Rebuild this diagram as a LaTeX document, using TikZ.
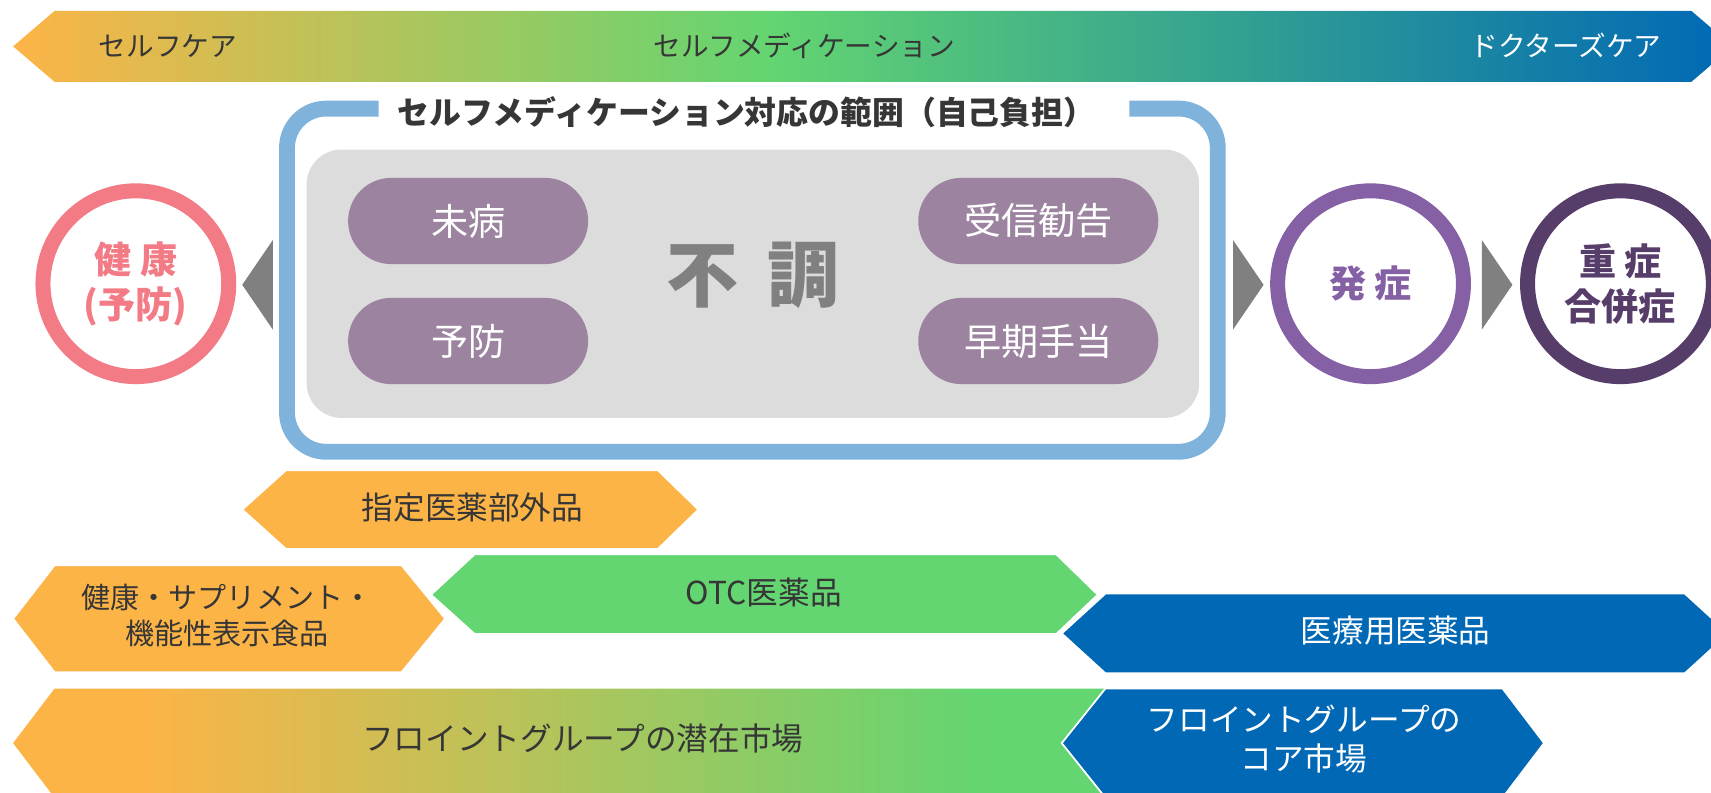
\documentclass[tikz,border=0pt]{standalone}
\usepackage{fontspec}
\setmainfont{Noto Sans CJK JP}
\usetikzlibrary{shapes.misc}
\definecolor{barorange}{HTML}{FDB447}
\definecolor{bargreen}{HTML}{63D571}
\definecolor{barblue}{HTML}{0068B5}
\definecolor{framblue}{HTML}{7FB3DC}
\definecolor{boxgray}{HTML}{DCDCDC}
\definecolor{pillmauve}{HTML}{9C84A0}
\definecolor{arrowgray}{HTML}{808080}
\definecolor{kenkopink}{HTML}{F27B86}
\definecolor{hasshopurple}{HTML}{8560A4}
\definecolor{jushopurple}{HTML}{573D69}
\definecolor{textdark}{HTML}{363636}
\pgfdeclarehorizontalshading{bandshade}{100bp}{color(0bp)=(barorange); color(25bp)=(barorange); color(47bp)=(bargreen); color(75bp)=(barblue); color(100bp)=(barblue)}
\pgfdeclarehorizontalshading{marketshade}{100bp}{color(0bp)=(barorange); color(30.8bp)=(barorange); color(68.6bp)=(bargreen); color(100bp)=(bargreen)}
\begin{document}
\begin{tikzpicture}[x=0.75pt,y=-0.75pt,
	bandtext/.style={text=textdark, font=\fontsize{19}{23}\selectfont},
	bartext/.style={text=textdark, align=center, font=\fontsize{21.75}{27}\selectfont},
	pill/.style={rounded rectangle, fill=pillmauve, text=white, inner sep=0pt, minimum width=165pt, minimum height=59.25pt, font=\fontsize{25.5}{30}\selectfont},
	ring/.style={circle, draw=#1, text=#1, line width=10.3pt, minimum size=127.7pt, inner sep=0pt, align=center, font=\bfseries\fontsize{25.5}{31}\selectfont},
	hexbar/.style={draw=white, line width=1.2pt}]
		\useasboundingbox (0,0) rectangle (1568,726);
		\clip (0,0) rectangle (1568,726);
		\shade[shading=bandshade] (12,42.5)--(50,10)--(1550,10)--(1588,42.5)--(1550,75)--(50,75)--cycle;
		\node[bandtext] (selfcare) at (154,42) {セルフケア};
		\node[bandtext] (selfmed) at (737,42) {セルフメディケーション};
		\node[bandtext, text=white] (doctorcare) at (1435,42) {ドクターズケア};
		\draw[framblue, line width=10.9pt, rounded corners=27pt] (347,99.5)--(263,99.5)--(263,414)--(1116,414)--(1116,99.5)--(1035,99.5);
		\node[text=textdark, font=\bfseries\fontsize{21.9}{26}\selectfont] (scope) at (684,103) {セルフメディケーション対応の範囲（自己負担）};
		\fill[boxgray, rounded corners=24pt] (281,137) rectangle (1099,383);
		\node[pill] (mibyo) at (429,202.5) {未病};
		\node[pill] (yobo) at (429,312.5) {予防};
		\node[pill] (jushin) at (951.5,202.5) {受信勧告};
		\node[pill] (souki) at (951.5,312.5) {早期手当};
		\node[text=arrowgray, font=\bfseries\fontsize{49.5}{55}\selectfont] (fucho) at (690,252) {不\hspace{0.4em}調};
		\node[ring=kenkopink] (kenko) at (124.5,260) {健 康\\(予防)};
		\node[ring=hasshopurple] (hassho) at (1256,260) {発 症};
		\node[ring=jushopurple] (jusho) at (1485,260) {重 症\\合併症};
		\fill[arrowgray] (250,220)--(222,261)--(250,302)--cycle;
		\fill[arrowgray] (1130,220)--(1158,261)--(1130,302)--cycle;
		\fill[arrowgray] (1358,220)--(1386,261)--(1358,302)--cycle;
		\fill[barorange, hexbar] (222,467)--(262,431)--(603,431)--(640,467)--(603,503)--(262,503)--cycle;
		\node[bartext] (shitei) at (433,465) {指定医薬部外品};
		\fill[barorange, hexbar] (12,567)--(50,518)--(368,518)--(408,567)--(368,616)--(50,616)--cycle;
		\node[bartext, font=\fontsize{20}{24.75}\selectfont] (supple) at (208,564) {健康・サプリメント・\\機能性表示食品};
		\fill[bargreen, hexbar] (395,545)--(435,508)--(968,508)--(1006,545)--(968,581)--(435,581)--cycle;
		\node[bartext] (otc) at (700,543) {OTC医薬品};
		\fill[barblue, hexbar] (973,580.5)--(1013,544)--(1544,544)--(1584,580.5)--(1544,617)--(1013,617)--cycle;
		\node[bartext, text=white] (iryo) at (1279,578) {医療用医薬品};
		\shade[shading=marketshade] (12,681)--(50,631)--(1030,631)--(1030,731)--(50,731)--cycle;
		\node[bartext] (senzai) at (534,677) {フロイントグループの潜在市場};
		\fill[barblue, hexbar] (973,681)--(1013,631)--(1377,631)--(1415,681)--(1377,731)--(1013,731)--cycle;
		\node[bartext, text=white] (core) at (1195,677) {フロイントグループの\\コア市場};
	\end{tikzpicture}
\end{document}
